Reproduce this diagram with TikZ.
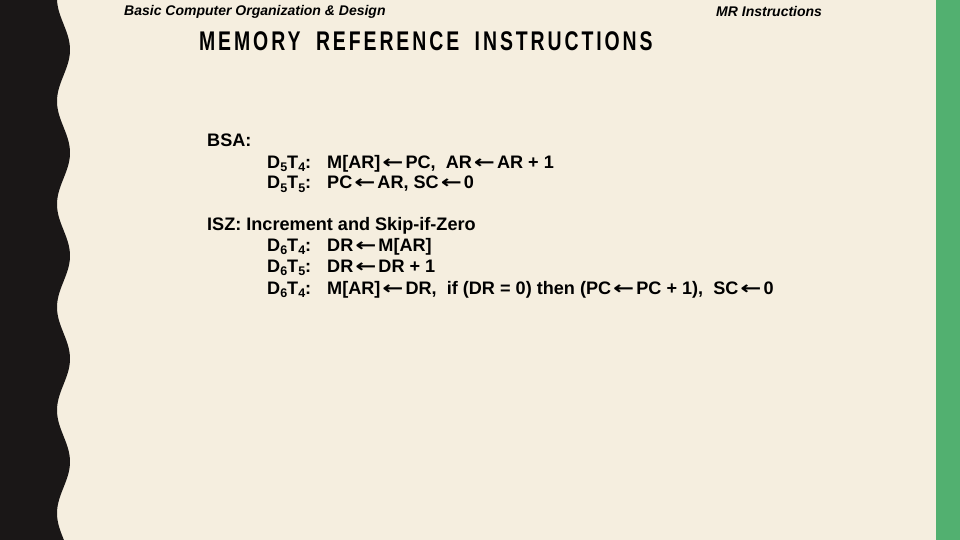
\documentclass[tikz,border=0pt]{standalone}
\usepackage{fontspec}
\setmainfont{Liberation Sans}
\newfontfamily\arr{DejaVu Sans}
\definecolor{bg}{RGB}{245,238,223}
\definecolor{grn}{RGB}{82,176,112}
\definecolor{blk}{RGB}{26,23,23}
\newcommand{\la}{\hspace{2pt}\scalebox{1.4}[1]{\arr\fontsize{18}{18}\selectfont ←}\hspace{2pt}}
\newcommand{\sbs}[1]{\raisebox{-0.35ex}{\fontsize{12.5}{12.5}\selectfont #1}}
\begin{document}
\begin{tikzpicture}[x=1pt,y=-1pt,
  txt/.style={anchor=base west,inner sep=0,font=\fontsize{18.1}{18.1}\selectfont\bfseries},
  hdr/.style={anchor=base west,inner sep=0,font=\fontsize{14}{14}\selectfont\bfseries\itshape}]
\fill[bg] (0,0) rectangle (960,540);
\useasboundingbox (0,0) rectangle (960,540);
\fill[grn] (936,0) rectangle (960,540);
\fill[blk] (0,0) -- plot[domain=0:540,samples=200,smooth,variable=\t] ({63.5+6.5*sin(3.4951*(\t-24))},\t) -- (0,540) -- cycle;
\node[hdr] (h1) at (124,16) {Basic Computer Organization \& Design};
\node[hdr] (h2) at (716,17) {MR Instructions};
\node[anchor=base west,inner sep=0,xscale=0.72,font=\fontsize{27}{27}\selectfont\bfseries\addfontfeature{LetterSpace=15}] (t) at (199,51) {MEMORY\hspace{10pt} REFERENCE\hspace{10pt} INSTRUCTIONS};
\node[txt] (bsa) at (207,147) {BSA:};
\node[txt] (a1) at (267,168) {D\sbs{5}T\sbs{4}:};
\node[txt] (b1) at (327,168) {M[AR]\la PC,\ \ AR\la AR + 1};
\node[txt] (a2) at (267,189) {D\sbs{5}T\sbs{5}:};
\node[txt] (b2) at (327,189) {PC\la AR, SC\la 0};
\node[txt] (isz) at (207,230) {ISZ: Increment and Skip-if-Zero};
\node[txt] (a3) at (267,251) {D\sbs{6}T\sbs{4}:};
\node[txt] (b3) at (327,251) {DR\la M[AR]};
\node[txt] (a4) at (267,272) {D\sbs{6}T\sbs{5}:};
\node[txt] (b4) at (327,272) {DR\la DR + 1};
\node[txt] (a5) at (267,294) {D\sbs{6}T\sbs{4}:};
\node[txt] (b5) at (327,294) {M[AR]\la DR,\ \ if (DR = 0) then (PC\la PC + 1),\ \ SC\la 0};
\end{tikzpicture}
\end{document}
